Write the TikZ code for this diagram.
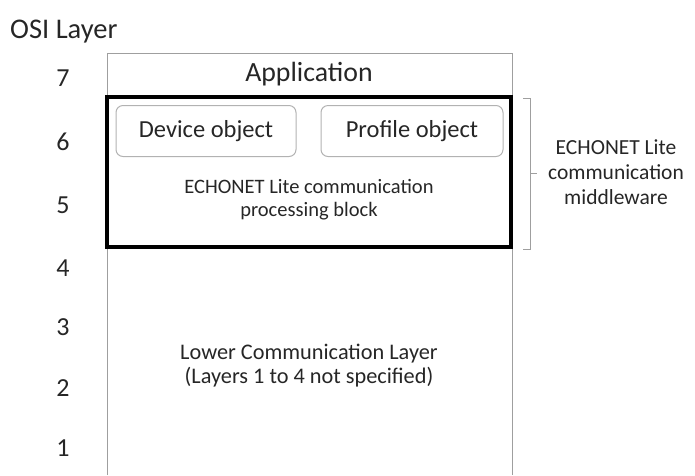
\documentclass[tikz,border=0pt]{standalone}
\usepackage{fontspec}
\setmainfont{Carlito}
\usetikzlibrary{positioning,calc}

\begin{document}
\begin{tikzpicture}[
  x=1pt, y=-1pt,
  big/.style={font=\fontsize{26}{30}\selectfont, text=black!85},
  small/.style={font=\fontsize{20.5}{23}\selectfont, text=black!85, align=center},
  objbox/.style={draw=gray!60, line width=1pt, rounded corners=7pt, minimum height=51pt,
    big, font=\fontsize{24.5}{28}\selectfont},
  thinline/.style={draw=gray!75, line width=1pt},
]
\useasboundingbox (0,0) rectangle (695,475);

% OSI layer column
\node[big, font=\fontsize{28.5}{32}\selectfont, anchor=west, inner sep=0pt] (osi) at (10,32) {OSI Layer};
\foreach \n/\yy in {7/78, 6/142, 5/205, 4/268, 3/327, 2/388, 1/448}
  \node[big] (L\n) at (63,\yy) {\n};

% stack, open at the bottom
\draw[thinline] (107,475) -- (107,53) -- (512,53) -- (512,475);
\node[big, font=\fontsize{27.8}{32}\selectfont] (app) at (309,74) {Application};

% middleware block
\node[draw, line width=4.5pt, outer sep=0pt, inner sep=0pt, anchor=north west,
  minimum width=404pt, minimum height=150pt] (mw) at (107,97) {};
\node[objbox, minimum width=180pt] (dev) at (206,131) {Device object};
\node[objbox, minimum width=182pt] (prof) at (412,131) {Profile object};
\node[small] (proc) at (309,200) {ECHONET Lite communication\\processing block};

\node[small, font=\fontsize{22.3}{24}\selectfont] (lower) at (309,366)
  {Lower Communication Layer\\(Layers 1 to 4 not specified)};

% brace for the middleware
\coordinate (bt) at ($(mw.north east)+(19,1)$);
\coordinate (bb) at ($(mw.south east)+(19,2)$);
\draw[thinline] ($(bt)+(-7,0)$) -- (bt) -- (bb) -- ($(bb)+(-7,0)$);
\draw[thinline] ($(bt)!0.5!(bb)$) -- ++(7,0);
\node[small, font=\fontsize{21.5}{25}\selectfont] (mwlabel) at (616,172)
  {ECHONET Lite\\communication\\middleware};
\end{tikzpicture}
\end{document}
